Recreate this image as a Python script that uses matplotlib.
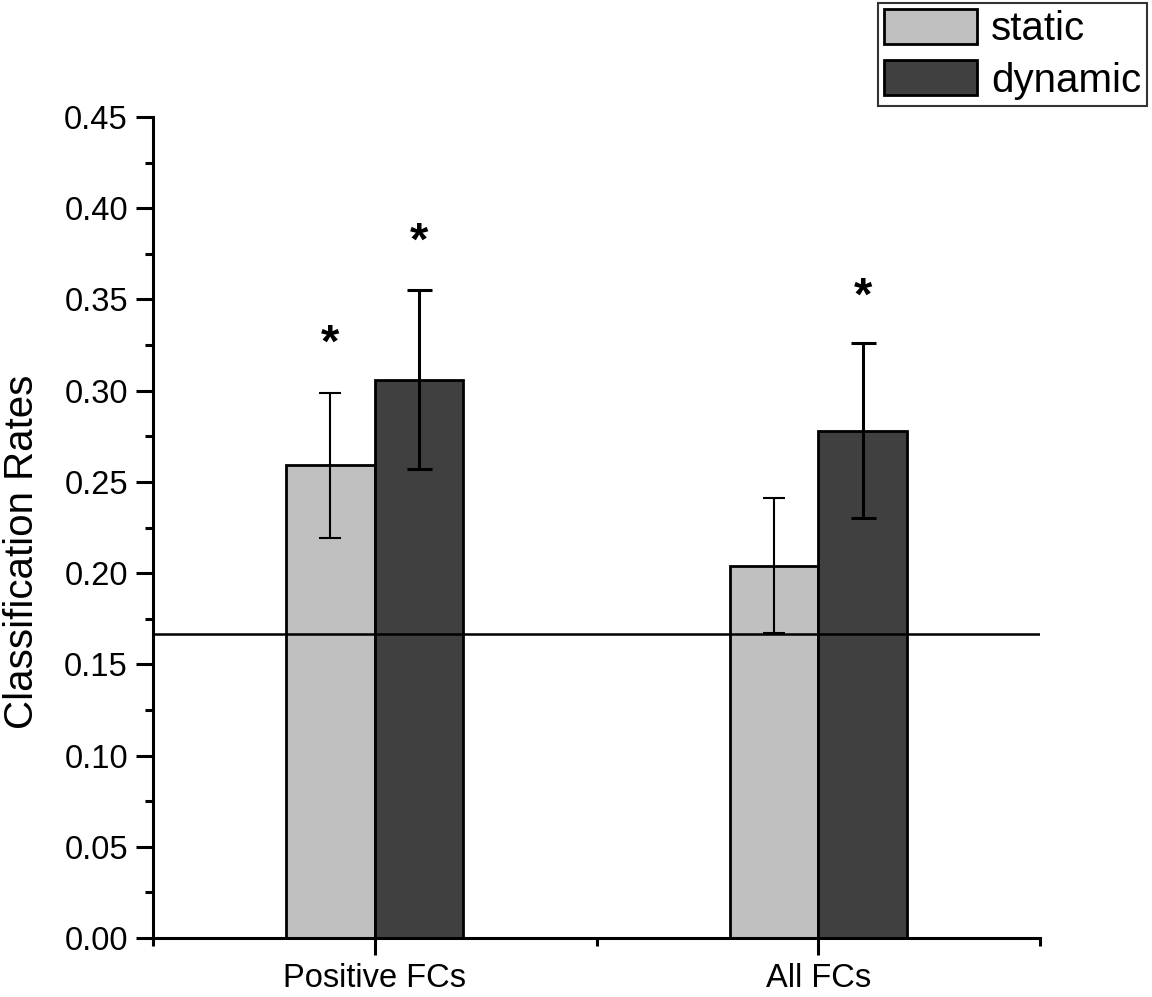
import matplotlib
matplotlib.use('Agg')
import matplotlib.pyplot as plt
import numpy as np
from matplotlib.ticker import MultipleLocator, FixedLocator, FormatStrFormatter

plt.rcParams['font.family'] = ['Liberation Sans', 'DejaVu Sans']

# data
groups = ['Positive FCs', 'All FCs']
static_vals = [0.259, 0.204]
static_err = [0.040, 0.037]
dynamic_vals = [0.306, 0.278]
dynamic_err = [0.049, 0.048]
chance = 1 / 6
# heights of the significance stars (None = no star)
stars_static = [0.325, None]
stars_dynamic = [0.381, 0.351]

x = np.arange(1, len(groups) + 1)
w = 0.2

fig = plt.figure(figsize=(11.52, 9.97), dpi=100)
ax = fig.add_axes([0.1328, 0.0592, 0.77, 0.8234])

b1 = ax.bar(x - w / 2, static_vals, w, color='#c0c0c0', edgecolor='black', linewidth=2, label='static', zorder=2)
b2 = ax.bar(x + w / 2, dynamic_vals, w, color='#404040', edgecolor='black', linewidth=2, label='dynamic', zorder=2)
ax.errorbar(x - w / 2, static_vals, yerr=static_err, fmt='none', ecolor='black', elinewidth=1.5, capsize=8, capthick=1.5, zorder=3)
ax.errorbar(x + w / 2, dynamic_vals, yerr=dynamic_err, fmt='none', ecolor='black', elinewidth=2.2, capsize=9, capthick=2.2, zorder=3)
ax.axhline(chance, color='black', linewidth=1.8, zorder=4)

for xi, s in zip(x - w / 2, stars_static):
    if s is not None:
        ax.text(xi, s, '*', ha='center', va='center', fontsize=34, fontweight='bold')
for xi, s in zip(x + w / 2, stars_dynamic):
    if s is not None:
        ax.text(xi, s, '*', ha='center', va='center', fontsize=34, fontweight='bold')

ax.set_xlim(0.5, 2.5)
ax.set_ylim(0, 0.45)
ax.set_xticks(x)
ax.set_xticklabels(groups)
ax.xaxis.set_minor_locator(FixedLocator([0.5, 1.5, 2.5]))
ax.yaxis.set_major_locator(MultipleLocator(0.05))
ax.yaxis.set_minor_locator(MultipleLocator(0.025))
ax.yaxis.set_major_formatter(FormatStrFormatter('%.2f'))

for side in ['top', 'right']:
    ax.spines[side].set_visible(False)
for side in ['left', 'bottom']:
    ax.spines[side].set_linewidth(2.2)
ax.tick_params(which='major', direction='out', length=12, width=2.2, labelsize=23.5, pad=6)
ax.tick_params(axis='x', which='major', pad=6)
ax.tick_params(which='minor', direction='out', length=6, width=2.2)
ax.set_ylabel('Classification Rates', fontsize=29)
ax.yaxis.set_label_coords(-0.126, 0.471)

leg = fig.legend(handles=[b1, b2], loc='upper right', bbox_to_anchor=(0.996, 0.997),
                 fontsize=29, frameon=True, fancybox=False, edgecolor='black',
                 handlelength=2.3, handleheight=0.95, borderpad=0.15, labelspacing=0.3,
                 handletextpad=0.35, borderaxespad=0)
leg.get_frame().set_linewidth(1.5)

fig.savefig('out.png', dpi=100)
